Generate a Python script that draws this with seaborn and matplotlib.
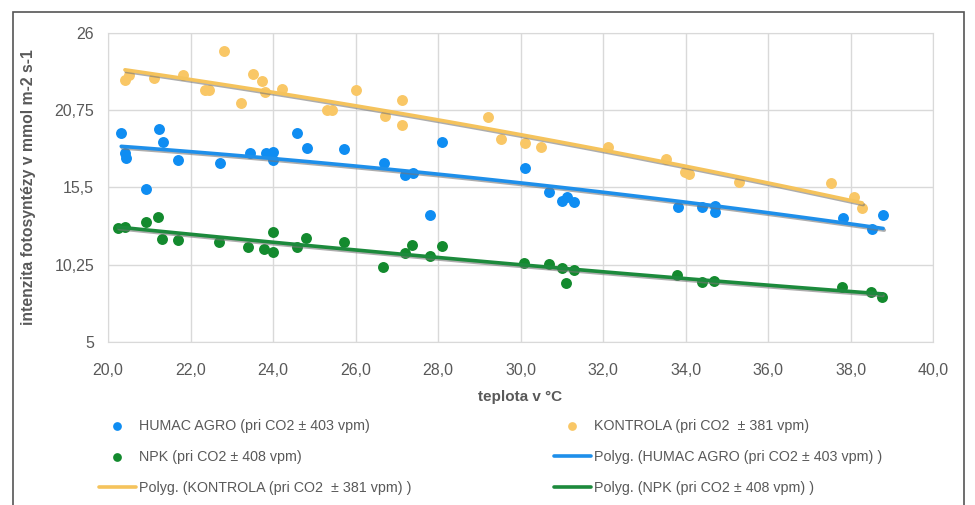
import numpy as np
import matplotlib
matplotlib.use("Agg")
import matplotlib.pyplot as plt
import matplotlib.patheffects as pe
from matplotlib.patches import Rectangle
import seaborn as sns

# data
humac_t = [20.32, 20.41, 20.44, 20.92, 21.24, 21.33, 21.70, 22.72, 23.44, 23.83, 24.0, 24.0,
           24.58, 24.82, 25.72, 26.69, 27.2, 27.39, 27.81, 28.1, 30.11, 30.69, 31.0, 31.13,
           31.3, 33.82, 34.4, 34.72, 34.72, 37.82, 38.52, 38.79]
humac_v = [19.20, 17.84, 17.5, 15.39, 19.47, 18.59, 17.37, 17.16, 17.84, 17.84, 17.91, 17.37,
           19.20, 18.18, 18.11, 17.16, 16.35, 16.48, 13.63, 18.59, 16.82, 15.19, 14.58, 14.85,
           14.51, 14.17, 14.17, 13.83, 14.24, 13.42, 12.68, 13.63]

kontrola_t = [20.41, 20.51, 21.12, 21.82, 22.35, 22.45, 22.81, 23.22, 23.52, 23.73, 23.81, 24.22,
              25.31, 25.43, 26.02, 26.72, 27.13, 27.13, 29.21, 29.53, 30.11, 30.50, 32.12, 33.53,
              33.99, 34.08, 35.30, 37.53, 38.08, 38.28]
kontrola_v = [22.80, 23.14, 22.94, 23.14, 22.13, 22.13, 24.78, 21.24, 23.21, 22.74, 21.99, 22.19,
              20.77, 20.77, 22.13, 20.36, 21.45, 19.75, 20.29, 18.79, 18.52, 18.25, 18.25, 17.43,
              16.55, 16.41, 15.87, 15.80, 14.85, 14.10]

npk_t = [20.24, 20.41, 20.92, 21.21, 21.31, 21.70, 22.69, 23.39, 23.78, 24.0, 24.0, 24.58,
         24.8, 25.72, 26.67, 27.2, 27.37, 27.81, 28.1, 30.08, 30.69, 31.0, 31.1, 31.3,
         33.79, 34.4, 34.7, 37.8, 38.5, 38.76]
npk_v = [12.74, 12.81, 13.15, 13.49, 12.0, 11.93, 11.79, 11.45, 11.32, 12.47, 11.11, 11.45,
         12.06, 11.79, 10.09, 11.04, 11.59, 10.84, 11.52, 10.36, 10.30, 10.02, 9.0, 9.89,
         9.55, 9.07, 9.14, 8.73, 8.39, 8.05]

x_ticks = [20, 22, 24, 26, 28, 30, 32, 34, 36, 38, 40]
x_tick_labels = ["20,0", "22,0", "24,0", "26,0", "28,0", "30,0", "32,0", "34,0", "36,0", "38,0", "40,0"]
y_ticks = [5, 10.25, 15.5, 20.75, 26]
y_tick_labels = ["5", "10,25", "15,5", "20,75", "26"]

series = [
    ("HUMAC AGRO (pri CO2 ± 403 vpm)", humac_t, humac_v, "#0F8DF2", "#1E8FEA"),
    ("KONTROLA (pri CO2  ± 381 vpm)", kontrola_t, kontrola_v, "#F9C766", "#F5C35C"),
    ("NPK (pri CO2 ± 408 vpm)", npk_t, npk_v, "#138A2E", "#1C8A3C"),
]

sns.set_style("white")
plt.rcParams['font.family'] = ['Liberation Sans', 'DejaVu Sans']
txt = "#595959"

fig = plt.figure(figsize=(9.75, 5.05), dpi=100)
ax = fig.add_axes([0.1108, 0.3228, 0.8462, 0.6119])

shadow = [pe.SimpleLineShadow(offset=(0.8, -1.2), shadow_color="#777777", alpha=0.6), pe.Normal()]
pts, fits = {}, {}
for name, t, v, c_pt, c_ln in series:
    sns.regplot(x=np.array(t), y=np.array(v), order=2, ci=None, ax=ax,
                scatter_kws=dict(s=62, color=c_pt, alpha=1, linewidths=0),
                line_kws=dict(color=c_ln, lw=2.6, path_effects=shadow))
    pts[name] = ax.collections[-1]
    fits[name] = ax.lines[-1]

ax.set_xlim(20, 40)
ax.set_ylim(5, 26)
ax.set_xticks(x_ticks)
ax.set_xticklabels(x_tick_labels)
ax.set_yticks(y_ticks)
ax.set_yticklabels(y_tick_labels)
ax.grid(True, color="#d9d9d9", lw=1)
for s in ax.spines.values():
    s.set_color("#d9d9d9")
ax.tick_params(colors=txt, labelsize=11.5, length=0)
ax.tick_params(axis="x", pad=15)
ax.tick_params(axis="y", pad=10)

ax.set_xlabel("teplota v °C", fontsize=11, fontweight="bold", color=txt, labelpad=9)
ax.set_ylabel("intenzita fotosyntézy v mmol m-2 s-1", fontsize=11.3, fontweight="bold",
              color=txt, labelpad=13)

h_name, k_name, n_name = series[0][0], series[1][0], series[2][0]
handles = [pts[h_name], pts[n_name], fits[k_name], pts[k_name], fits[h_name], fits[n_name]]
labels = [h_name, n_name, "Polyg. (" + k_name + " )",
          k_name, "Polyg. (" + h_name + " )", "Polyg. (" + n_name + " )"]
leg = fig.legend(handles, labels, ncol=2, loc="upper left",
                 bbox_to_anchor=(0.088, 0.196), frameon=False, fontsize=10.3,
                 columnspacing=9.9, handlelength=2.6, handletextpad=0.25,
                 labelspacing=1.2, markerscale=0.8)
for t in leg.get_texts():
    t.set_color(txt)
for lh in leg.legend_handles:
    lh.set_path_effects([])

fig.patches.append(Rectangle((13 / 975, -0.1), 951 / 975, 1.1 - 12 / 505,
                             transform=fig.transFigure, fill=False,
                             edgecolor="#555555", lw=1.2))

fig.savefig("out.png", dpi=100)
